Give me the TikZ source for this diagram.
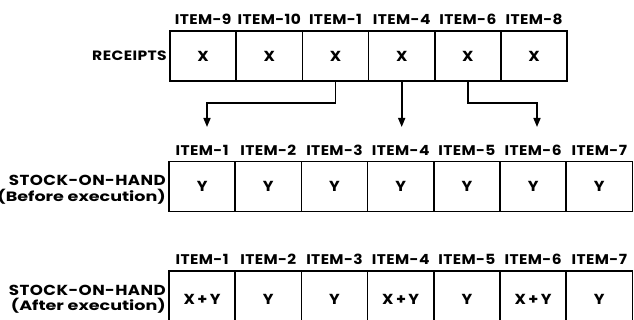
\documentclass[tikz,border=0pt]{standalone}
\usepackage{fontspec}
\setmainfont{Poppins}
\newfontfamily\labfont{Poppins}[FakeStretch=1.1,LetterSpace=3]
\newfontfamily\rowfont{Poppins}[FakeStretch=1.15,LetterSpace=3]
\newfontfamily\subfont{Poppins}[FakeStretch=1.3]
\usetikzlibrary{arrows.meta}
\begin{document}
\begin{tikzpicture}[x=1pt,y=-1pt,
  cell/.style={draw,line width=1.6pt,minimum width=66.2pt,minimum height=50pt,inner sep=0pt,font=\labfont\fontsize{14.5}{15}\selectfont\bfseries},
  lowcell/.style={cell,minimum height=56pt},
  lab/.style={inner sep=0pt,font=\labfont\fontsize{14}{15}\selectfont\bfseries},
  rowlab/.style={inner sep=0pt,anchor=east,align=right,font=\rowfont\fontsize{14.5}{15.5}\selectfont\bfseries},
  arr/.style={line width=1.6pt,-{Triangle[length=9pt,width=7pt]}}]
\useasboundingbox (0,0) rectangle (634,320);
% receipts row
\foreach \i/\t in {1/X,2/X,3/X,4/X,5/X,6/X}{
  \node[cell] (r\i) at ({170+(\i-0.5)*66.2},56) {\t};
}
\foreach \i/\t in {1/ITEM-9,2/ITEM-10,3/ITEM-1,4/ITEM-4,5/ITEM-6,6/ITEM-8}{
  \node[lab] (lr\i) at ([yshift=11pt]r\i.north) {\t};
}
% stock before
\foreach \i in {1,...,7}{
  \node[cell] (s\i) at ({169+(\i-0.5)*66.2},186.5) {Y};
  \node[lab] (ls\i) at ([yshift=10pt]s\i.north) {ITEM-\i};
}
% stock after
\foreach \i/\t in {1/X\,+\,Y,2/Y,3/Y,4/X\,+\,Y,5/Y,6/X\,+\,Y,7/Y}{
  \node[lowcell] (t\i) at ({169+(\i-0.5)*66.2},299) {\t};
  \node[lab] (lt\i) at ([yshift=11pt]t\i.north) {ITEM-\i};
}
% row labels
\node[rowlab,font=\rowfont\fontsize{13.5}{15}\selectfont\bfseries] (rl) at (167,56) {RECEIPTS};
\node[rowlab] (sl) at (166,189.5) {STOCK-ON-HAND\\{\subfont\fontsize{13.5}{15.5}\selectfont(Before execution)}};
\node[rowlab] (tl) at (166,299) {STOCK-ON-HAND\\{\subfont\fontsize{13.5}{15.5}\selectfont(After execution)}};
% arrows
\coordinate (k1) at (207,103);
\coordinate (a1) at (207,127);
\coordinate (a2) at (r4.south |- a1);
\coordinate (k3) at (537,103);
\coordinate (a3) at (537,127);
\draw[arr] (r3.south) |- (k1) -- (a1);
\draw[arr] (r4.south) -- (a2);
\draw[arr] (r5.south) |- (k3) -- (a3);
\end{tikzpicture}
\end{document}
